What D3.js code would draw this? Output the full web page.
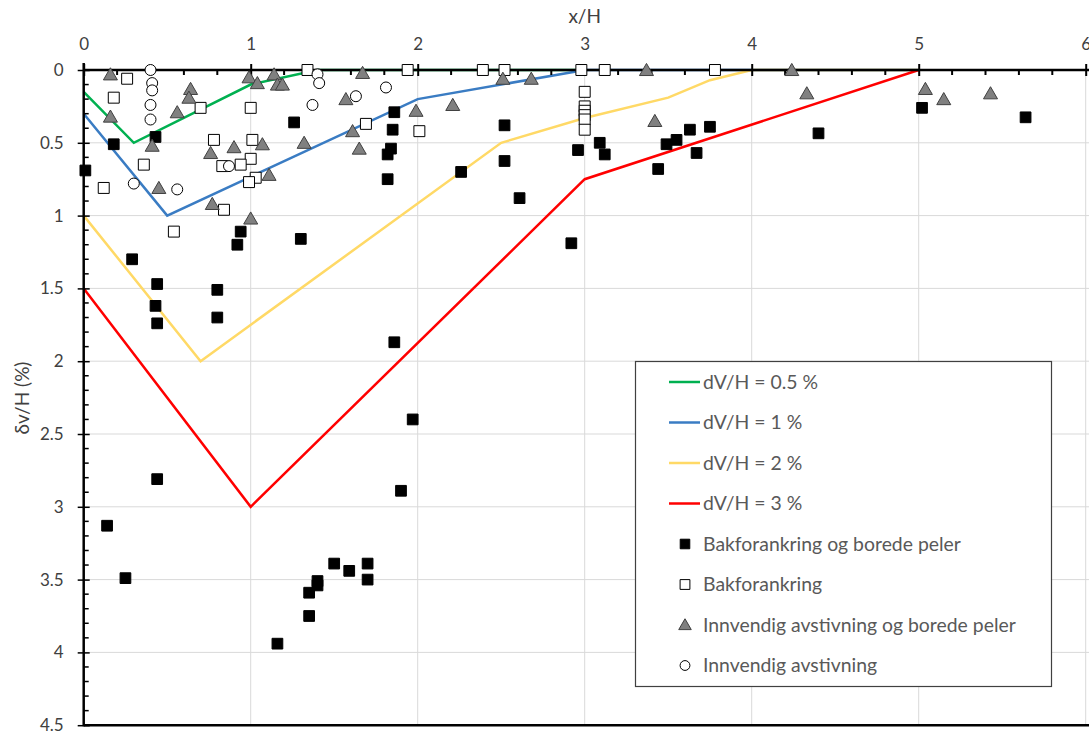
<!DOCTYPE html>
<html><head><meta charset="utf-8">
<script src="https://cdn.jsdelivr.net/npm/d3@7"></script>
<style>body{margin:0;background:#fff;} text{font-family:Lato,"Open Sans",sans-serif;}</style>
</head><body>
<svg id="c" width="1089" height="731"></svg>
<script>
// Reference lines
const line05 = [[0,0.15],[0.3,0.5],[1,0.1],[1.4,0],[3,0]];
const line1 = [[0,0.3],[0.5,1.0],[2,0.2],[3,0],[5,0]];
const line2 = [[0,1.0],[0.7,2.0],[2.5,0.5],[3,0.33],[3.5,0.19],[3.75,0.07],[4,0],[5,0]];
const line3 = [[0,1.5],[1,3.0],[3,0.75],[5,0]];
const lineNames = ["dV/H = 0.5 %","dV/H = 1 %","dV/H = 2 %","dV/H = 3 %"];
const lineColors = ["#00b050","#3a7cc3","#ffd966","#ff0000"];

// Bakforankring og borede peler (filled squares)
const bakBor = [[0.01,0.69],[0.18,0.51],[0.43,0.46],[1.26,0.36],[1.86,0.29],[1.85,0.41],[1.84,0.54],[1.82,0.58],[1.82,0.75],
 [0.94,1.11],[0.92,1.20],[1.30,1.16],[0.29,1.30],[0.44,1.47],[0.43,1.62],[0.44,1.74],[0.80,1.51],[0.80,1.70],
 [1.86,1.87],[1.97,2.40],[0.44,2.81],[0.14,3.13],[0.25,3.49],[1.90,2.89],[1.16,3.94],[1.35,3.75],[1.35,3.59],
 [1.40,3.51],[1.40,3.54],[1.50,3.39],[1.59,3.44],[1.70,3.39],[1.70,3.50],
 [2.52,0.38],[2.52,0.625],[2.26,0.70],[2.61,0.88],[2.92,1.19],[2.96,0.55],[3.09,0.50],[3.12,0.58],
 [3.49,0.51],[3.55,0.48],[3.63,0.41],[3.75,0.39],[3.67,0.57],[3.44,0.68],[4.40,0.435],[5.02,0.26],[5.64,0.325]];
// Bakforankring (open squares)
const bak = [[0.26,0.06],[0.18,0.19],[0.70,0.26],[0.36,0.65],[0.12,0.81],[0.54,1.11],[0.78,0.48],[1.00,0.26],[1.01,0.48],
 [1.00,0.61],[0.83,0.66],[0.94,0.65],[1.03,0.74],[0.99,0.77],[0.84,0.96],[1.34,0.0],[1.69,0.37],
 [1.94,0],[2.39,0],[2.52,0],[2.98,0],[3.12,0],[3.78,0],[2.01,0.42],[3.00,0.15],[3.00,0.25],[3.00,0.28],[3.00,0.31],[3.00,0.34],[3.00,0.41]];
// Innvendig avstivning og borede peler (triangles)
const innBor = [[0.16,0.03],[0.16,0.32],[0.64,0.13],[0.63,0.19],[0.56,0.29],[0.41,0.52],[0.45,0.81],[0.76,0.57],[0.90,0.53],
 [1.07,0.51],[1.11,0.72],[0.77,0.92],[1.00,1.02],[0.99,0.05],[1.04,0.09],[1.14,0.03],[1.16,0.10],[1.19,0.10],[1.32,0.50],
 [1.67,0.02],[1.57,0.20],[1.61,0.42],[1.65,0.54],[2.51,0.06],[2.68,0.06],[3.37,0.0],[1.99,0.28],[2.21,0.24],[3.42,0.35],
 [4.24,0.0],[4.33,0.16],[5.04,0.13],[5.15,0.20],[5.43,0.16]];
// Innvendig avstivning (circles)
const inn = [[0.40,0.0],[0.41,0.09],[0.41,0.14],[0.40,0.24],[0.40,0.34],[0.30,0.78],[0.56,0.82],[0.87,0.66],
 [1.40,0.03],[1.41,0.09],[1.37,0.24],[1.63,0.18],[1.81,0.12]];
const markerNames = ["Bakforankring og borede peler","Bakforankring","Innvendig avstivning og borede peler","Innvendig avstivning"];

const xTicks = [0,1,2,3,4,5,6];
const yTicks = [0,0.5,1,1.5,2,2.5,3,3.5,4,4.5];

const svg = d3.select("#c");
const x = d3.scaleLinear().domain([0,6]).range([83.7,1085.7]);
const y = d3.scaleLinear().domain([0,4.5]).range([70,725.2]);
const lab = "#404040";

// gridlines
svg.append("g").selectAll("line").data(xTicks.slice(1)).join("line")
  .attr("x1",d=>x(d)).attr("x2",d=>x(d)).attr("y1",y(0)).attr("y2",y(4.5)).attr("stroke","#d9d9d9");
svg.append("g").selectAll("line").data(yTicks.slice(1)).join("line")
  .attr("y1",d=>y(d)).attr("y2",d=>y(d)).attr("x1",x(0)).attr("x2",1089).attr("stroke","#d9d9d9");

// lines
const lg = d3.line().x(d=>x(d[0])).y(d=>y(d[1]));
[line05,line1,line2,line3].forEach((L,i)=>{
  svg.append("path").attr("d",lg(L)).attr("fill","none").attr("stroke",lineColors[i]).attr("stroke-width",2.5).attr("stroke-linejoin","miter");
});

// axes
const xMinor = d3.range(0,6.01,0.2).filter(v=>Math.abs(v-Math.round(v))>1e-6);
const yMinor = d3.range(0,4.51,0.1).filter(v=>Math.abs(v*2-Math.round(v*2))>1e-6);
const xAxis = d3.axisTop(x).tickValues(xTicks).tickFormat(d3.format("d")).tickSize(6).tickPadding(14);
const gx = svg.append("g").attr("transform",`translate(0,${y(0)})`).call(xAxis);
gx.select(".domain").remove();
gx.selectAll(".tick line").attr("y1",6).attr("y2",-6).attr("stroke","#000").attr("stroke-width",2);
gx.selectAll("text").attr("font-size",17).attr("fill",lab);
svg.append("g").selectAll("line").data(xMinor).join("line")
  .attr("x1",d=>x(d)).attr("x2",d=>x(d)).attr("y1",y(0)).attr("y2",y(0)+5).attr("stroke","#000").attr("stroke-width",2);
const yAxis = d3.axisLeft(y).tickValues(yTicks).tickFormat(d=>String(d)).tickSize(6).tickPadding(14);
const gy = svg.append("g").attr("transform",`translate(${x(0)},0)`).call(yAxis);
gy.select(".domain").remove();
gy.selectAll(".tick line").attr("x1",-6).attr("x2",6).attr("stroke","#000").attr("stroke-width",1.5);
gy.selectAll("text").attr("font-size",17).attr("fill",lab);
svg.append("g").selectAll("line").data(yMinor).join("line")
  .attr("y1",d=>y(d)).attr("y2",d=>y(d)).attr("x1",x(0)).attr("x2",x(0)+5).attr("stroke","#000").attr("stroke-width",1.5);
svg.append("line").attr("x1",x(0)).attr("x2",1089).attr("y1",y(0)).attr("y2",y(0)).attr("stroke","#000").attr("stroke-width",2.5);
svg.append("line").attr("x1",x(0)).attr("x2",x(0)).attr("y1",y(0)-7).attr("y2",y(4.5)+1).attr("stroke","#000").attr("stroke-width",2.5);
svg.append("line").attr("x1",x(0)).attr("x2",1089).attr("y1",y(4.5)).attr("y2",y(4.5)).attr("stroke","#000").attr("stroke-width",2.5);

// axis titles
svg.append("text").attr("x",x(3)).attr("y",23).attr("text-anchor","middle").attr("font-size",19).attr("fill",lab).text("x/H");
svg.append("text").attr("transform","translate(29,398) rotate(-90)").attr("text-anchor","middle").attr("font-size",19).attr("fill",lab).text("δv/H (%)");

// markers
const sym = [d3.symbolSquare,d3.symbolSquare,d3.symbolTriangle,d3.symbolCircle];
const sz = [115,120,85,95];
const fills = ["#000","#fff","#808080","#fff"];
const strokes = ["#000","#000","#404040","#000"];
function drawMarker(g,i,cx,cy,scale){
  g.append("path").attr("d",d3.symbol().type(sym[i]).size(sz[i]*(scale||1))())
   .attr("transform",`translate(${cx},${cy})`).attr("fill",fills[i]).attr("stroke",strokes[i]).attr("stroke-width",1);
}
const mg = svg.append("g");
[bakBor,bak,innBor,inn].forEach((S,i)=>{
  S.forEach(p=>drawMarker(mg,i,x(p[0]),y(p[1])+(i===2?1.5:0)));
});

// legend
const L = svg.append("g");
L.append("rect").attr("x",635.5).attr("y",361.5).attr("width",416).attr("height",325).attr("fill","#fff").attr("stroke","#404040").attr("stroke-width",1.2);
const rowY = d3.range(8).map(i=>382+i*40.5);
lineNames.forEach((n,i)=>{
  L.append("line").attr("x1",669).attr("x2",700).attr("y1",rowY[i]).attr("y2",rowY[i]).attr("stroke",lineColors[i]).attr("stroke-width",2.5);
  L.append("text").attr("x",703).attr("y",rowY[i]).attr("dy","0.35em").attr("font-size",19.4).attr("fill","#595959").text(n);
});
markerNames.forEach((n,i)=>{
  const ry = rowY[i+4];
  drawMarker(L,i,685,ry+(i===2?1:0),0.8);
  L.append("text").attr("x",703).attr("y",ry).attr("dy","0.35em").attr("font-size",19.4).attr("fill","#595959").text(n);
});
</script>
</body></html>
